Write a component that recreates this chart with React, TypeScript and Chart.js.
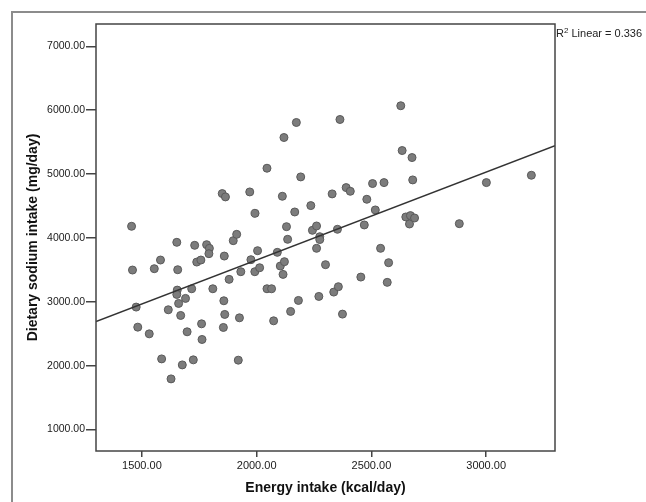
import React, { useEffect, useRef } from "react";
import { Chart, registerables } from "chart.js";

Chart.register(...registerables);

const energyIntake = [
  1455, 1459, 1475, 1482, 1532, 1554, 1581, 1586, 1615, 1627,
  1652, 1656, 1654, 1652, 1660, 1669, 1676, 1690, 1697, 1717,
  1724, 1730, 1739, 1757, 1760, 1762, 1782, 1794, 1792, 1809,
  1850, 1864, 1859, 1880, 1857, 1861, 1855, 1898, 1913, 1931,
  1925, 1920, 1970, 1975, 1993, 2004, 1992, 2013, 2045, 2045,
  2065, 2074, 2090, 2103, 2112, 2119, 2115, 2121, 2130, 2135,
  2148, 2166, 2173, 2192, 2182, 2236, 2243, 2261, 2261, 2275,
  2275, 2271, 2300, 2329, 2336, 2352, 2356, 2363, 2374, 2390,
  2408, 2454, 2469, 2480, 2505, 2517, 2540, 2555, 2575, 2569,
  2628, 2634, 2650, 2670, 2666, 2688, 2677, 2680, 2883, 3001,
  3197,
];

const sodiumIntake = [
  4183, 3498, 2918, 2604, 2499, 3519, 3655, 2107, 2876, 1794,
  3932, 3503, 3184, 3116, 2975, 2787, 2013, 3054, 2531, 3205,
  2092, 3885, 3623, 3655, 2656, 2411, 3895, 3838, 3754, 3205,
  4695, 4643, 3717, 3352, 3017, 2803, 2599, 3958, 4057, 3472,
  2750, 2087, 4721, 3660, 4386, 3801, 3472, 3534, 5092, 3205,
  3205, 2703, 3775, 3561, 4653, 5573, 3430, 3629, 4177, 3979,
  2850, 4407, 5808, 4956, 3022, 4507, 4120, 4188, 3838, 4020,
  3975, 3085, 3582, 4690, 3153, 4136, 3237, 5855, 2808, 4789,
  4731, 3388, 4204, 4606, 4852, 4439, 3838, 4867, 3613, 3305,
  6070, 5369, 4329, 4350, 4219, 4313, 5259, 4909, 4224, 4867,
  4982,
];

// Fit line endpoints (at the plot edges)
const fitEnergy = [1300, 3300];
const fitSodium = [2690, 5445];

const xTicks = [1500, 2000, 2500, 3000];
const yTicks = [1000, 2000, 3000, 4000, 5000, 6000, 7000];

const xTitle = "Energy intake (kcal/day)";
const yTitle = "Dietary sodium intake (mg/day)";
const r2Value = "0.336";

const FONT = "'Liberation Sans', Arial, sans-serif";

export default function App() {
  const ref = useRef<HTMLCanvasElement>(null);

  useEffect(() => {
    const canvas = ref.current;
    if (!canvas) return;

    const decor = {
      id: "decor",
      beforeDraw(chart: any) {
        const ctx = chart.ctx;
        ctx.save();
        ctx.fillStyle = "#ffffff";
        ctx.fillRect(0, 0, chart.width, chart.height);
        // outer figure frame
        ctx.strokeStyle = "#8c8c8c";
        ctx.lineWidth = 2;
        ctx.beginPath();
        ctx.moveTo(12, chart.height + 5);
        ctx.lineTo(12, 12);
        ctx.lineTo(chart.width + 5, 12);
        ctx.stroke();
        ctx.restore();
      },
      afterDraw(chart: any) {
        const ctx = chart.ctx;
        const a = chart.chartArea;
        ctx.save();
        // plot box
        ctx.strokeStyle = "#444444";
        ctx.lineWidth = 1.5;
        ctx.strokeRect(a.left, a.top, a.right - a.left, a.bottom - a.top);
        // axis titles
        ctx.fillStyle = "#111111";
        ctx.font = `bold 14px ${FONT}`;
        ctx.textAlign = "center";
        ctx.textBaseline = "middle";
        ctx.fillText(xTitle, (a.left + a.right) / 2, 488);
        ctx.save();
        ctx.translate(33, (a.top + a.bottom) / 2);
        ctx.rotate(-Math.PI / 2);
        ctx.fillText(yTitle, 0, 0);
        ctx.restore();
        // R² label
        ctx.textAlign = "left";
        ctx.textBaseline = "alphabetic";
        ctx.fillStyle = "#222222";
        let x = a.right + 1;
        const base = 37;
        ctx.font = `11px ${FONT}`;
        ctx.fillText("R", x, base);
        x += ctx.measureText("R").width;
        ctx.font = `8px ${FONT}`;
        ctx.fillText("2", x, base - 4);
        x += ctx.measureText("2").width;
        ctx.font = `11px ${FONT}`;
        ctx.fillText(" Linear = " + r2Value, x, base);
        ctx.restore();
      },
    };

    const chart = new Chart(canvas, {
      type: "scatter",
      data: {
        datasets: [
          {
            type: "line",
            data: fitEnergy.map((e, i) => ({ x: e, y: fitSodium[i] })),
            borderColor: "#333333",
            borderWidth: 1.5,
            pointRadius: 0,
            fill: false,
            tension: 0,
          } as any,
          {
            type: "scatter",
            data: energyIntake.map((e, i) => ({ x: e, y: sodiumIntake[i] })),
            backgroundColor: "#7c7c7c",
            borderColor: "#5a5a5a",
            borderWidth: 1,
            pointRadius: 4,
          },
        ],
      },
      options: {
        responsive: false,
        animation: false,
        devicePixelRatio: 1,
        layout: { padding: { top: 24, right: 91, left: 0, bottom: 0 } },
        plugins: {
          legend: { display: false },
          tooltip: { enabled: false },
        },
        scales: {
          x: {
            type: "linear",
            min: 1300,
            max: 3300,
            afterBuildTicks: (s: any) => {
              s.ticks = xTicks.map((v) => ({ value: v }));
            },
            afterFit: (s: any) => {
              s.height = 51;
            },
            grid: {
              display: true,
              drawOnChartArea: false,
              drawTicks: true,
              tickLength: 6,
              tickColor: "#444444",
              lineWidth: 1.5,
            },
            border: { display: false },
            ticks: {
              padding: 2,
              color: "#1a1a1a",
              font: { family: FONT, size: 11 },
              maxRotation: 0,
              autoSkip: false,
              callback: (v: any) => Number(v).toFixed(2),
            },
          },
          y: {
            type: "linear",
            min: 665,
            max: 7350,
            afterBuildTicks: (s: any) => {
              s.ticks = yTicks.map((v) => ({ value: v }));
            },
            afterFit: (s: any) => {
              s.width = 96;
            },
            grid: {
              display: true,
              drawOnChartArea: false,
              drawTicks: true,
              tickLength: 10,
              tickColor: "#444444",
              lineWidth: 1.5,
            },
            border: { display: false },
            ticks: {
              padding: 1,
              color: "#1a1a1a",
              font: { family: FONT, size: 10.5 },
              autoSkip: false,
              callback: (v: any) => Number(v).toFixed(2),
            },
          },
        },
      },
      plugins: [decor],
    });

    return () => chart.destroy();
  }, []);

  return (
    <div
      style={{
        position: "fixed",
        left: 0,
        top: 0,
        width: 646,
        height: 502,
        background: "#ffffff",
      }}
    >
      <canvas ref={ref} width={646} height={502} style={{ display: "block" }} />
    </div>
  );
}
